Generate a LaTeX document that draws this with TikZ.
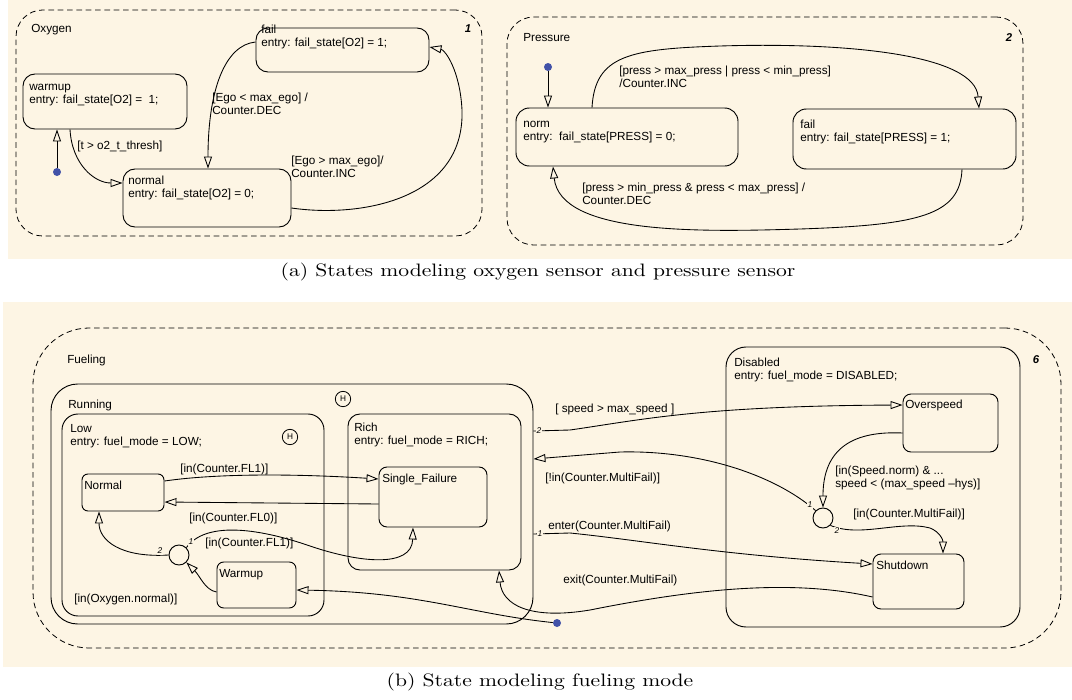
\documentclass[tikz,border=0pt]{standalone}
\usepackage{fontspec}
\setsansfont{Liberation Sans}
\usetikzlibrary{arrows.meta,fit,calc}
\definecolor{bg}{RGB}{253,245,228}
\definecolor{dotblue}{RGB}{66,82,168}
\begin{document}
\begin{tikzpicture}[x=0.75pt,y=-0.75pt,
  region/.style={draw, dash pattern=on 4.2pt off 2.8pt, line width=0.6pt, inner sep=0pt},
  statebox/.style={draw, line width=0.7pt, inner sep=0pt},
  txt/.style={font=\sffamily\fontsize{8.8}{9.4}\selectfont, inner sep=0pt, align=left},
  regnum/.style={font=\sffamily\bfseries\itshape\fontsize{8.5}{9}\selectfont, inner sep=0pt},
  tr/.style={line width=0.65pt, -{Triangle[open,length=9pt,width=6pt]}},
  initdot/.style={circle, fill=dotblue, inner sep=0pt, minimum size=6pt},
  hist/.style={circle, draw, line width=0.6pt, inner sep=0pt, minimum size=11.5pt, font=\sffamily\fontsize{6.2}{6.5}\selectfont},
  junc/.style={circle, draw, line width=0.7pt, inner sep=0pt, minimum size=15pt},
  tnum/.style={font=\sffamily\itshape\fontsize{6.3}{6.5}\selectfont, inner sep=0.6pt, fill=bg},
  captxt/.style={font=\rmfamily\fontsize{10}{12}\selectfont, inner sep=0pt}
]
\useasboundingbox (0,0) rectangle (1072,700);
% backgrounds
\fill[bg] (8,0) rectangle (1072,259);
\fill[bg] (3,302) rectangle (1072,667);

% ================= Oxygen =================
\node[region, rounded corners=20pt, fit={(16,10) (482,236)}] (oxy) {};
\node[txt, anchor=base west] (oxyL) at (31,32) {Oxygen};
\node[regnum, anchor=base] (oxyN) at (468,32) {1};

\node[statebox, rounded corners=9pt, fit={(23,74) (187,129)}] (warmup) {};
\node[txt, anchor=base west] (warmupT) at (29,103.5) {warmup\\entry: fail\_state[O2] =\ \ 1;};
\node[statebox, rounded corners=9pt, fit={(123,169) (291,227)}] (normal) {};
\node[txt, anchor=base west] (normalT) at (128,197.5) {normal\\entry: fail\_state[O2] = 0;};
\node[statebox, rounded corners=9pt, fit={(256,28) (429,72)}] (fail) {};
\node[txt, anchor=base west] (failT) at (261,46.5) {fail\\entry: fail\_state[O2] = 1;};

\node[initdot] (dotO) at (57,172) {};
\draw[tr] (dotO) -- (57,0 |- warmup.south);
\draw[tr] (70,0 |- warmup.south) .. controls (72,165) and (95,183) .. (normal.west |- 0,183);
\draw[tr] (fail.west |- 0,42) .. controls (225,45) and (208,90) .. (208,0 |- normal.north);
\draw[tr] (normal.east |- 0,208) .. controls (360,218) and (465,200) .. (462,110) .. controls (460,70) and (445,50) .. (fail.east |- 0,47);

\node[txt, anchor=base west] (l1) at (77,149) {[t > o2\_t\_thresh]};
\node[txt, anchor=base west] (l2) at (212,114.5) {[Ego < max\_ego] /\\Counter.DEC};
\node[txt, anchor=base west] (l3) at (291,177.5) {[Ego > max\_ego]/\\Counter.INC};

% ================= Pressure =================
\node[region, rounded corners=20pt, fit={(507,17) (1023,245)}] (press) {};
\node[txt, anchor=base west] (pressL) at (523,41) {Pressure};
\node[regnum, anchor=base] (pressN) at (1009,41) {2};

\node[statebox, rounded corners=10pt, fit={(516,108) (738,166)}] (norm) {};
\node[txt, anchor=base west] (normT) at (523,140) {norm\\entry:\ \ fail\_state[PRESS] = 0;};
\node[statebox, rounded corners=10pt, fit={(793,109) (1016,169)}] (pfail) {};
\node[txt, anchor=base west] (pfailT) at (800,141) {fail\\entry: fail\_state[PRESS] = 1;};

\node[initdot] (dotP) at (548,67) {};
\draw[tr] (dotP) -- (548,0 |- norm.north);
\draw[tr] (592,0 |- norm.north) .. controls (595,55) and (630,49) .. (720,46) .. controls (850,42) and (975,55) .. (979,0 |- pfail.north);
\draw[tr] (962,0 |- pfail.south) .. controls (960,215) and (920,225) .. (800,229) .. controls (700,232) and (560,235) .. (553,0 |- norm.south);

\node[txt, anchor=base west] (l4) at (619,87) {[press > max\_press | press < min\_press]\\/Counter.INC};
\node[txt, anchor=base west] (l5) at (582,204) {[press > min\_press \& press < max\_press] /\\Counter.DEC};

\node[captxt] (capa) at (538,272) {\scalebox{1.62}[1.35]{(a) States modeling oxygen sensor and pressure sensor}};

% ================= Fueling =================
\node[region, rounded corners=42pt, fit={(33,328) (1061,648)}] (fuel) {};
\node[txt, anchor=base west] (fuelL) at (67,363) {Fueling};
\node[regnum, anchor=base] (fuelN) at (1036,363) {6};

\node[statebox, rounded corners=20pt, fit={(51,384) (533,624)}] (running) {};
\node[txt, anchor=base west] (runningL) at (68,408) {Running};
\node[hist] (hRun) at (343,399) {H};

\node[statebox, rounded corners=12pt, fit={(62,414) (324,616)}] (low) {};
\node[txt, anchor=base west] (lowT) at (70,445) {Low\\entry: fuel\_mode = LOW;};
\node[hist] (hLow) at (290,437) {H};

\node[statebox, rounded corners=9pt, fit={(348,414) (521,570)}] (rich) {};
\node[txt, anchor=base west] (richT) at (354,444) {Rich\\entry: fuel\_mode = RICH;};

\node[statebox, rounded corners=15pt, fit={(726,347) (1020,627)}] (disabled) {};
\node[txt, anchor=base west] (disabledT) at (734,379) {Disabled\\entry: fuel\_mode = DISABLED;};

\node[statebox, rounded corners=4.5pt, fit={(82,474) (164,511)}] (normalF) {};
\node[txt, anchor=base west] (normalFT) at (84,489) {Normal};
\node[statebox, rounded corners=6pt, fit={(379,467) (487,527)}] (single) {};
\node[txt, anchor=base west] (singleT) at (382,482) {Single\_Failure};
\node[statebox, rounded corners=5pt, fit={(217,562) (296,608)}] (warm) {};
\node[txt, anchor=base west] (warmT) at (219,577) {Warmup};
\node[statebox, rounded corners=6pt, fit={(903,394) (998,452)}] (over) {};
\node[txt, anchor=base west] (overT) at (905,408) {Overspeed};
\node[statebox, rounded corners=6pt, fit={(873,554) (964,609)}] (shut) {};
\node[txt, anchor=base west] (shutT) at (876,569) {Shutdown};

\node[junc] (jLow) at (179,555) {};
\node[junc] (jDis) at (823,518) {};
\node[initdot] (dotF) at (557,623) {};

% transitions in Low / Rich
\draw[tr] (normalF.east |- 0,481) .. controls (220,473) and (300,474) .. (single.west |- 0,479);
\draw[tr] (single.west |- 0,504) -- (normalF.east |- 0,502);
\draw[tr] (jLow.west) .. controls (120,558) and (99,540) .. (99,0 |- normalF.south);
\draw[tr] (jLow.north east) .. controls (205,522) and (255,527) .. (310,546) .. controls (360,563) and (412,568) .. (413,0 |- single.south);
\draw[tr] (warm.west |- 0,592) .. controls (205,590) and (200,576) .. (jLow.south east);
\draw[tr] (dotF) .. controls (470,614) and (420,592) .. (warm.east |- 0,590);
\draw[tr] (shut.west |- 0,597) .. controls (790,578) and (690,590) .. (590,610) .. controls (530,620) and (502,605) .. (499,0 |- rich.south);

% transitions Running / Disabled
\draw[tr] (running.east |- 0,431) -- (570,430) .. controls (640,420) and (700,406) .. (over.west |- 0,405);
\draw[tr] (jDis.north west) .. controls (775,475) and (700,450) .. (620,452) -- (running.east |- 0,459);
\draw[tr] (running.east |- 0,534) -- (570,533) .. controls (640,540) and (720,555) .. (shut.west |- 0,564);
\draw[tr] (over.west |- 0,433) .. controls (840,430) and (823,460) .. (jDis.north);
\draw[tr] (jDis.south east) .. controls (860,538) and (900,520) .. (930,528) .. controls (940,532) and (943,540) .. (943,0 |- shut.north);

% transition numbers
\node[tnum] (n1) at (160,551) {2};
\node[tnum] (n2) at (191,542) {1};
\node[tnum] (n3) at (539,431) {2};
\node[tnum] (n4) at (540,534) {1};
\node[tnum] (n5) at (810,505) {1};
\node[tnum] (n6) at (837,531) {2};

% labels
\node[txt, anchor=base west] (b1) at (180,472) {[in(Counter.FL1)]};
\node[txt, anchor=base west] (b2) at (189,521) {[in(Counter.FL0)]};
\node[txt, anchor=base west] (b3) at (205,546) {[in(Counter.FL1)]};
\node[txt, anchor=base west] (b4) at (74,602) {[in(Oxygen.normal)]};
\node[txt, anchor=base west] (b5) at (555,412) {[ speed > max\_speed ]};
\node[txt, anchor=base west] (b6) at (545,481) {[!in(Counter.MultiFail)]};
\node[txt, anchor=base west] (b7) at (548,529) {enter(Counter.MultiFail)};
\node[txt, anchor=base west] (b8) at (563,583) {exit(Counter.MultiFail)};
\node[txt, anchor=base west] (b9) at (835,487) {[in(Speed.norm) \& ...\\speed < (max\_speed –hys)]};
\node[txt, anchor=base west] (b10) at (853,517) {[in(Counter.MultiFail)]};

\node[captxt] (capb) at (540,682) {\scalebox{1.62}[1.35]{(b) State modeling fueling mode}};
\end{tikzpicture}
\end{document}
